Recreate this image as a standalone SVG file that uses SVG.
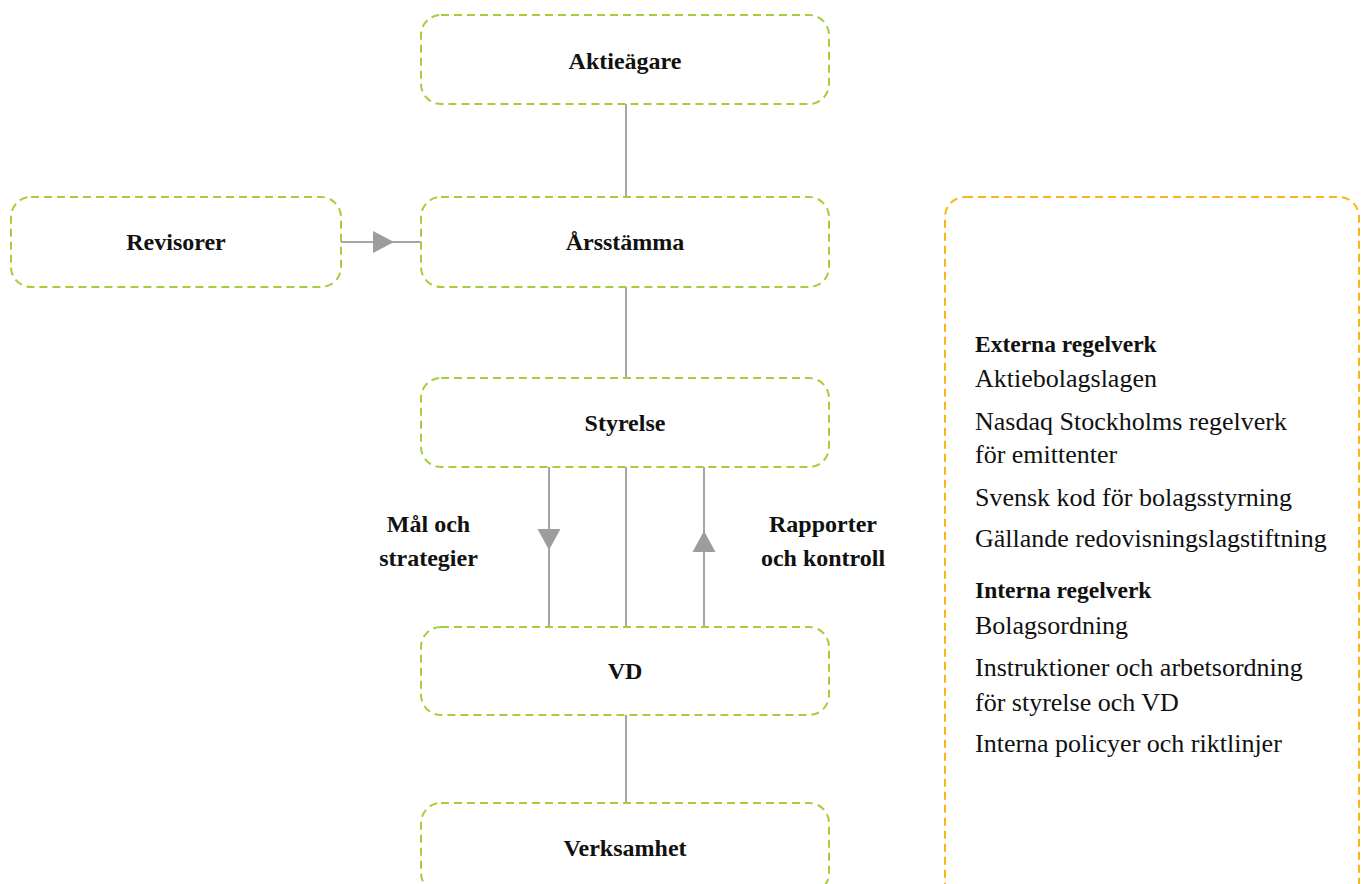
<svg xmlns="http://www.w3.org/2000/svg" width="1365" height="884" viewBox="0 0 1365 884">
<style>
.box{fill:#fff;stroke:#a6ce39;stroke-width:2;stroke-dasharray:8 5}
.obox{fill:#fff;stroke:#fbb517;stroke-width:2;stroke-dasharray:8 5}
.lbl{font-family:"Liberation Serif",serif;font-weight:bold;font-size:24px;fill:#111;text-anchor:middle}
.txt{font-family:"Liberation Serif",serif;font-size:26px;fill:#111}
.txtb{font-family:"Liberation Serif",serif;font-weight:bold;font-size:23.5px;fill:#111}
.ln{stroke:#a6a6a6;stroke-width:2;fill:none}
.ah{fill:#9d9d9d}
</style>
<rect width="1365" height="884" fill="#fff"/>
<g id="connectors">
<line class="ln" x1="626" y1="104" x2="626" y2="197"/>
<line class="ln" x1="626" y1="287" x2="626" y2="378"/>
<line class="ln" x1="626" y1="467" x2="626" y2="627"/>
<line class="ln" x1="626" y1="715" x2="626" y2="803"/>
<line class="ln" x1="341" y1="242" x2="421" y2="242"/>
<polygon class="ah" points="373,231 394,242 373,253"/>
<line class="ln" x1="549" y1="467" x2="549" y2="627"/>
<polygon class="ah" points="537.5,529 560.5,529 549,550"/>
<line class="ln" x1="704" y1="467" x2="704" y2="627"/>
<polygon class="ah" points="692.5,552 715.5,552 704,531"/>
<text class="lbl" x="428.5" y="532">Mål och</text>
<text class="lbl" x="428.5" y="566">strategier</text>
<text class="lbl" x="823" y="532">Rapporter</text>
<text class="lbl" x="823" y="566">och kontroll</text>
</g>
<g id="aktieagare">
<rect class="box" x="421" y="15" width="408" height="89" rx="20"/>
<text class="lbl" x="625" y="69">Aktieägare</text>
</g>
<g id="revisorer">
<rect class="box" x="11" y="197" width="330" height="90" rx="20"/>
<text class="lbl" x="176" y="250">Revisorer</text>
</g>
<g id="arsstamma">
<rect class="box" x="421" y="197" width="408" height="90" rx="20"/>
<text class="lbl" x="625" y="250">Årsstämma</text>
</g>
<g id="styrelse">
<rect class="box" x="421" y="378" width="408" height="89" rx="20"/>
<text class="lbl" x="625" y="431">Styrelse</text>
</g>
<g id="vd">
<rect class="box" x="421" y="627" width="408" height="88" rx="20"/>
<text class="lbl" x="625" y="679">VD</text>
</g>
<g id="verksamhet">
<rect class="box" x="421" y="803" width="408" height="90" rx="20"/>
<text class="lbl" x="625" y="856">Verksamhet</text>
</g>
<g id="regelverk">
<rect class="obox" x="945" y="197" width="414" height="710" rx="20"/>
<text class="txtb" x="975" y="352">Externa regelverk</text>
<text class="txt" x="975" y="387">Aktiebolagslagen</text>
<text class="txt" x="975" y="430">Nasdaq Stockholms regelverk</text>
<text class="txt" x="975" y="463">för emittenter</text>
<text class="txt" x="975" y="506">Svensk kod för bolagsstyrning</text>
<text class="txt" x="975" y="547">Gällande redovisningslagstiftning</text>
<text class="txtb" x="975" y="598">Interna regelverk</text>
<text class="txt" x="975" y="634">Bolagsordning</text>
<text class="txt" x="975" y="676">Instruktioner och arbetsordning</text>
<text class="txt" x="975" y="711">för styrelse och VD</text>
<text class="txt" x="975" y="752">Interna policyer och riktlinjer</text>
</g>
</svg>
